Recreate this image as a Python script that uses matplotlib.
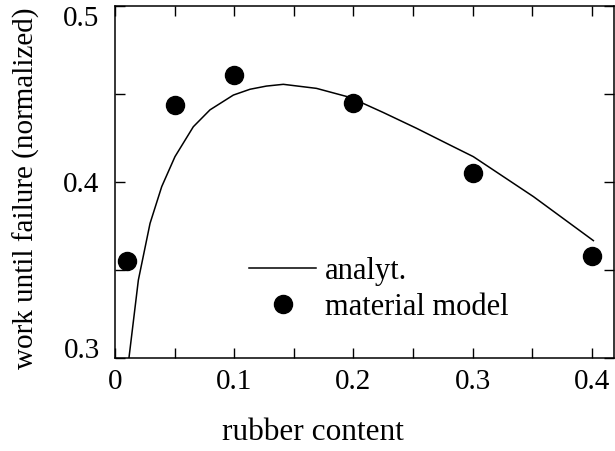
import matplotlib
matplotlib.use("Agg")
import matplotlib.pyplot as plt
from matplotlib.ticker import MultipleLocator

# data
curve_x = [0.0117, 0.0196, 0.0294, 0.0392, 0.0503, 0.0657, 0.0797, 0.0993,
           0.1133, 0.127, 0.1412, 0.169, 0.197, 0.225, 0.253, 0.281, 0.3006,
           0.351, 0.4013]
curve_y = [0.300, 0.3443, 0.3765, 0.3974, 0.4144, 0.4314, 0.441, 0.4494,
           0.4527, 0.4545, 0.4555, 0.4532, 0.4481, 0.4395, 0.4305, 0.421,
           0.4144, 0.3917, 0.3667]
model_x = [0.01, 0.05, 0.1, 0.2, 0.3, 0.4]
model_y = [0.355, 0.444, 0.461, 0.445, 0.405, 0.358]
x_ticks = [0, 0.1, 0.2, 0.3, 0.4]
x_labels = ["0", "0.1", "0.2", "0.3", "0.4"]
y_ticks = [0.3, 0.4, 0.5]
y_labels = ["0.3", "0.4", "0.5"]


def main() -> None:
    plt.rcParams["font.family"] = ["Liberation Serif", "DejaVu Serif"]
    plt.rcParams["font.size"] = 21
    fig = plt.figure(figsize=(6.15, 4.51), dpi=100)
    ax = fig.add_axes([115 / 615, 1 - 358 / 451, 499 / 615, 352 / 451])

    ax.plot(curve_x, curve_y, color="black", lw=1.1, label="analyt.")
    ax.plot(model_x, model_y, "o", color="black", ms=13, label="material model")

    ax.set_xlim(0, 0.4186)
    ax.set_ylim(0.3, 0.5)
    ax.set_xticks(x_ticks, x_labels)
    ax.set_yticks(y_ticks, y_labels)
    ax.xaxis.set_minor_locator(MultipleLocator(0.05))
    ax.yaxis.set_minor_locator(MultipleLocator(0.05))
    ax.tick_params(which="both", direction="in", top=True, right=True,
                   length=7, width=1, labelsize=21)
    ax.tick_params(axis="x", pad=8)
    ax.tick_params(axis="y", pad=11)
    ylab = ax.get_yticklabels()
    ylab[0].set_va("baseline")
    ylab[-1].set_va("top")
    for s in ax.spines.values():
        s.set_linewidth(1.1)

    fig.text(313 / 615, 1 - 440 / 451, "rubber content", ha="center",
             va="baseline", fontsize=22.5)
    fig.text(26 / 615, 1 - 188 / 451, "work until failure (normalized)",
             rotation=90, ha="center", va="center", fontsize=21)

    ax.legend(frameon=False, loc="center left",
              bbox_to_anchor=(0.2685, 0.195), handlelength=2.2,
              handletextpad=0.3, labelspacing=0.25, borderaxespad=0,
              borderpad=0, fontsize=22, numpoints=1)

    fig.savefig("out.png", dpi=100)
    plt.close(fig)


if __name__ == "__main__":
    main()
